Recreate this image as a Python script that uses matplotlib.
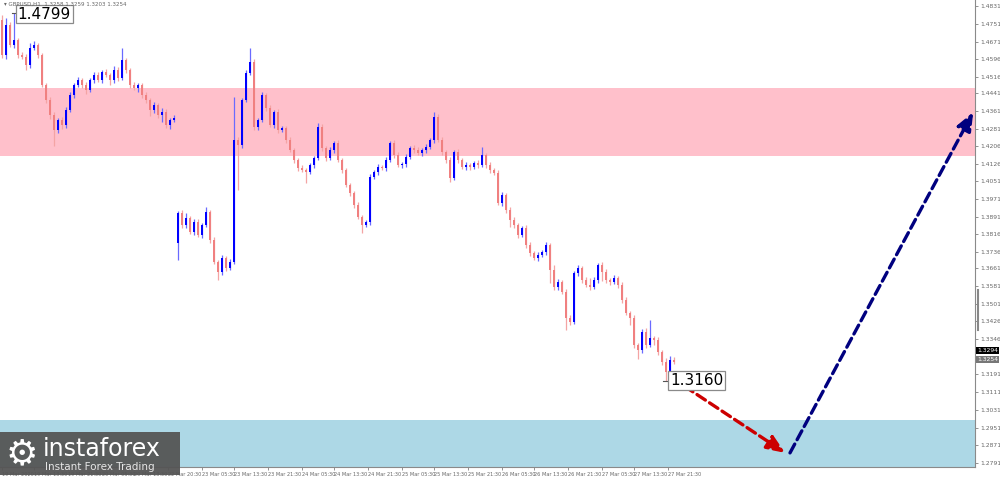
import matplotlib
matplotlib.use('Agg')
import matplotlib.pyplot as plt
from matplotlib.patches import Rectangle

# ---- data (H1 candles) ----
open_w1 = 1.4769
closes_w1 = [
    1.4613, 1.4747, 1.4657, 1.4680, 1.4613, 1.4605, 1.4568, 1.4644, 1.4657, 1.4613,
    1.4479, 1.4412, 1.4345, 1.4278, 1.4323, 1.4301, 1.4367, 1.4434, 1.4479, 1.4501,
    1.4479, 1.4457, 1.4501, 1.4524, 1.4501, 1.4537, 1.4524, 1.4501, 1.4546, 1.4510,
    1.4590, 1.4546, 1.4479, 1.4466, 1.4479, 1.4434, 1.4412, 1.4367, 1.4390, 1.4345,
    1.4359, 1.4301, 1.4323, 1.4332,
]
up_w1 = [
    20, 30, 15, 119, 10, 15, 12, 20, 18, 10,
    8, 10, 12, 15, 10, 12, 15, 12, 10, 15,
    10, 12, 10, 15, 12, 10, 15, 10, 18, 12,
    54, 10, 8, 12, 10, 10, 15, 8, 12, 10,
    18, 12, 10, 12,
]
dn_w1 = [
    15, 20, 10, 15, 12, 10, 20, 15, 10, 12,
    10, 15, 20, 70, 15, 20, 12, 10, 15, 10,
    12, 20, 10, 12, 10, 15, 10, 20, 12, 15,
    10, 12, 15, 10, 20, 12, 15, 25, 15, 12,
    30, 15, 20, 10,
]

open_w2 = 1.3774
closes_w2 = [
    1.3908, 1.3855, 1.3886, 1.3823, 1.3868, 1.3810, 1.3855, 1.3913, 1.3787, 1.3690,
    1.3645, 1.3707, 1.3663, 1.3690, 1.4234, 1.4211, 1.4412, 1.4532, 1.4581, 1.4292,
    1.4323, 1.4434, 1.4376, 1.4301, 1.4358, 1.4278, 1.4287, 1.4234, 1.4189, 1.4144,
    1.4109, 1.4100, 1.4091, 1.4122, 1.4153, 1.4292, 1.4198, 1.4153, 1.4189, 1.4220,
    1.4144, 1.4100, 1.4033, 1.3997, 1.3944, 1.3890, 1.3855, 1.3868, 1.4069, 1.4091,
    1.4113, 1.4109, 1.4144, 1.4220, 1.4167, 1.4122, 1.4126, 1.4158, 1.4198, 1.4189,
    1.4176, 1.4189, 1.4202, 1.4234, 1.4336, 1.4234, 1.4180, 1.4144, 1.4064, 1.4180,
    1.4144, 1.4113, 1.4122, 1.4113, 1.4131, 1.4122, 1.4167, 1.4122, 1.4100, 1.4086,
    1.3953, 1.3988, 1.3921, 1.3877, 1.3855, 1.3810, 1.3841, 1.3765, 1.3730, 1.3707,
    1.3721, 1.3734, 1.3765, 1.3654, 1.3578, 1.3600, 1.3556, 1.3440, 1.3422, 1.3640,
    1.3663, 1.3609, 1.3587, 1.3578, 1.3609, 1.3676, 1.3645, 1.3609, 1.3600, 1.3618,
    1.3587, 1.3520, 1.3462, 1.3440, 1.3319, 1.3297, 1.3377, 1.3319, 1.3351, 1.3341,
    1.3288, 1.3244, 1.3199, 1.3252, 1.3244,
]
up_w2 = [
    10, 15, 20, 10, 15, 12, 10, 20, 10, 12,
    10, 15, 10, 12, 191, 15, 10, 12, 63, 15,
    10, 12, 10, 15, 10, 12, 10, 8, 12, 10,
    10, 12, 10, 8, 10, 17, 12, 10, 15, 10,
    12, 10, 8, 10, 10, 12, 10, 8, 12, 10,
    15, 10, 12, 10, 15, 12, 10, 12, 10, 15,
    12, 10, 12, 10, 22, 15, 12, 10, 12, 10,
    12, 10, 12, 10, 10, 12, 35, 10, 12, 10,
    15, 12, 10, 15, 12, 10, 10, 15, 12, 10,
    15, 10, 12, 10, 20, 15, 10, 12, 15, 10,
    12, 10, 15, 30, 12, 10, 15, 12, 10, 15,
    10, 12, 15, 10, 12, 10, 15, 20, 80, 10,
    12, 10, 15, 20, 12,
]
dn_w2 = [
    76, 12, 15, 10, 12, 10, 15, 10, 12, 10,
    36, 12, 15, 10, 10, 200, 12, 10, 10, 12,
    15, 10, 12, 10, 15, 12, 10, 12, 10, 15,
    12, 10, 49, 10, 12, 10, 12, 15, 10, 12,
    10, 12, 10, 15, 12, 10, 36, 10, 12, 10,
    12, 10, 15, 10, 12, 10, 15, 12, 10, 12,
    10, 15, 12, 10, 12, 10, 15, 12, 20, 10,
    12, 10, 15, 12, 10, 12, 10, 15, 12, 10,
    10, 12, 15, 30, 12, 15, 10, 12, 15, 10,
    12, 10, 15, 60, 12, 15, 10, 54, 15, 10,
    12, 15, 10, 12, 10, 15, 40, 12, 15, 10,
    12, 15, 10, 30, 15, 40, 12, 15, 10, 20,
    15, 12, 39, 12, 10,
]

price_ticks = [1.4831, 1.4751, 1.4671, 1.4596, 1.4516, 1.4441, 1.4361, 1.4281,
               1.4206, 1.4126, 1.4051, 1.3971, 1.3891, 1.3816, 1.3736, 1.3661,
               1.3581, 1.3501, 1.3426, 1.3346, 1.3191, 1.3111, 1.3031, 1.2951,
               1.2871, 1.2791]
time_labels = ['19 Mar 2020', '19 Mar 13:30', '19 Mar 21:30', '20 Mar 05:30',
               '20 Mar 13:30', '22 Mar 20:30', '23 Mar 05:30', '23 Mar 13:30',
               '23 Mar 21:30', '24 Mar 05:30', '24 Mar 13:30', '24 Mar 21:30',
               '25 Mar 05:30', '25 Mar 13:30', '25 Mar 21:30', '26 Mar 05:30',
               '26 Mar 13:30', '26 Mar 21:30', '27 Mar 05:30', '27 Mar 13:30',
               '27 Mar 21:30']
time_pos = [0, 8, 16.5, 25, 33, 41.5, 50, 58, 66.5, 75, 83, 91.5, 100, 108,
            116.5, 125, 133, 141.5, 150, 158, 166.5]

sell_zone = (1.4162, 1.4466)
buy_zone = (1.2775, 1.2985)
high_label = 1.4799
low_label = 1.3160
red_path = [(167.5, 1.3172), (195.8, 1.2838)]
blue_path = [(197.0, 1.2838), (242.8, 1.4358)]

# ---- build candles ----
closes = closes_w1 + closes_w2
opens = [open_w1] + closes_w1[:-1] + [open_w2] + closes_w2[:-1]
ups = up_w1 + up_w2
dns = dn_w1 + dn_w2
highs = [max(o, c) + u / 10000 for o, c, u in zip(opens, closes, ups)]
lows = [min(o, c) - d / 10000 for o, c, d in zip(opens, closes, dns)]
xs = list(range(len(closes)))

fig = plt.figure(figsize=(10, 4.78), dpi=100)
ax = fig.add_axes([0, 11 / 478, 0.975, 467 / 478])
ax.set_xlim(-0.5, 243.25)
ax.set_ylim(1.2775, 1.4858)

ax.axhspan(*sell_zone, color='#ffc0cb', lw=0, zorder=0)
ax.axhspan(*buy_zone, color='#add8e6', lw=0, zorder=0)

for x, o, c, h, l in zip(xs, opens, closes, highs, lows):
    up = c >= o
    body_col = '#0000ff' if up else '#f08080'
    wick_col = '#6a6aff' if up else '#f4a4a4'
    ax.vlines(x, l, h, color=wick_col, lw=0.9, zorder=2)
    ax.bar(x, max(abs(c - o), 0.0003), bottom=min(o, c), width=0.5,
           color=body_col, lw=0, zorder=3)

# forecast arrows
for path, col in [(red_path, '#cc0000'), (blue_path, '#00007f')]:
    (x0, y0), (x1, y1) = path
    ax.annotate('', xy=(x1, y1), xytext=(x0, y0),
                arrowprops=dict(arrowstyle='-|>,head_length=1.1,head_width=0.45',
                                color=col, lw=2.4, linestyle=(0, (3, 1.5)),
                                shrinkA=0, shrinkB=0), zorder=5)

# extreme labels
box = dict(boxstyle='square,pad=0.12', fc='white', ec='#8a8a8a', lw=0.9)
ax.plot([2.4, 3.6], [high_label, high_label], color='#555', lw=0.8, zorder=4)
ax.text(3.9, high_label - 0.0004, '1.4799', fontsize=11, va='center', ha='left',
        bbox=box, zorder=6)
ax.plot([165.3, 166.6], [low_label, low_label], color='#555', lw=0.8, zorder=4)
ax.text(167.0, low_label, '1.3160', fontsize=11, va='center', ha='left', bbox=box, zorder=6)

# axes styling
for s in ['left', 'top']:
    ax.spines[s].set_visible(False)
for s in ['right', 'bottom']:
    ax.spines[s].set_color('#8a8a8a')
    ax.spines[s].set_linewidth(0.8)
ax.yaxis.tick_right()
ax.set_yticks(price_ticks)
ax.set_yticklabels([f'{p:.4f}' for p in price_ticks])
ax.tick_params(axis='y', labelsize=4.3, colors='#666', length=2, pad=1.5, width=0.5)
ax.set_xticks(time_pos)
ax.set_xticklabels(time_labels, ha='left')
ax.tick_params(axis='x', labelsize=3.6, colors='#666', length=2, pad=1.5, width=0.5)

# price markers on the right scale
ax.annotate('1.3294', xy=(1.002, 1.3294), xycoords=('axes fraction', 'data'),
            fontsize=4.3, color='white', va='center', ha='left',
            bbox=dict(boxstyle='square,pad=0.2', fc='black', ec='none'),
            annotation_clip=False)
ax.annotate('1.3254', xy=(1.002, 1.3254), xycoords=('axes fraction', 'data'),
            fontsize=4.3, color='white', va='center', ha='left',
            bbox=dict(boxstyle='square,pad=0.2', fc='#777777', ec='none'),
            annotation_clip=False)
fig.add_artist(plt.Line2D([0.9775, 0.9775], [1 - 330 / 478, 1 - 290 / 478],
                          color='#888', lw=1.5))

# header line
fig.text(0.004, 1 - 4 / 478, '\u25be GBPUSD,H1  1.3258 1.3259 1.3203 1.3254',
         fontsize=4, color='#666', va='center', ha='left')

# logo
fig.add_artist(Rectangle((0, 3 / 478), 0.18, 43 / 478, transform=fig.transFigure,
                         fc='#555555', ec='none', alpha=0.95, zorder=10))
fig.text(0.022, 24 / 478, '\u2699', fontsize=26, color='white', ha='center',
         va='center', zorder=11)
fig.text(0.043, 29 / 478, 'instaforex', fontsize=17, color='white',
         ha='left', va='center', zorder=11)
fig.text(0.045, 11 / 478, 'Instant Forex Trading', fontsize=7.5, color='#e6e6e6',
         ha='left', va='center', zorder=11)

fig.savefig('out.png', dpi=100, facecolor='white')
